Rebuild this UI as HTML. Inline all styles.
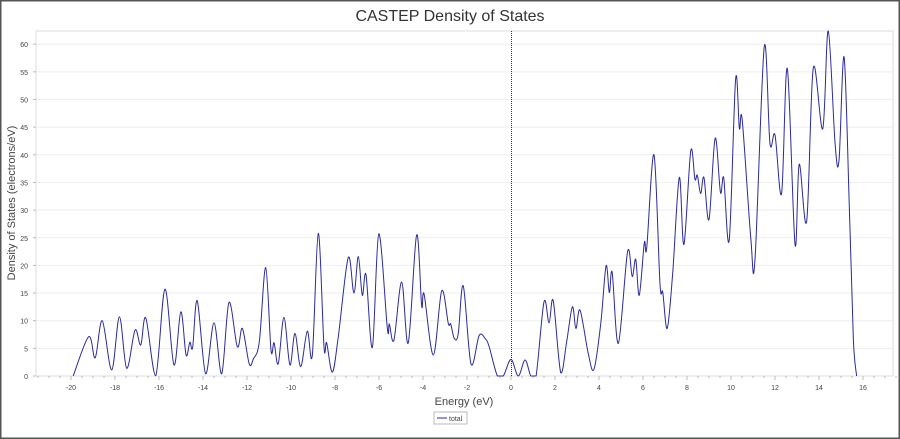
<!DOCTYPE html>
<html><head><meta charset="utf-8"><style>
html,body{margin:0;padding:0;background:#fff}
svg{display:block;font-family:"Liberation Sans",sans-serif}
</style></head><body>
<svg id="chart" width="900" height="439" viewBox="0 0 900 439">
<rect x="0.5" y="0.5" width="899" height="438" fill="#fff" stroke="#555" stroke-width="2"/>
<text x="450" y="21" text-anchor="middle" font-size="16" fill="#333">CASTEP Density of States</text>
<g id="grid"></g>
<rect x="36" y="31" width="857" height="345" fill="none" stroke="#ddd"/>
<g id="axes"></g>
<line id="fermi" stroke="#333" stroke-dasharray="1,1" stroke-width="1"/>
<path id="series" fill="none" stroke="#2a2a9e" stroke-width="1"/>
<text x="464" y="405" text-anchor="middle" font-size="11" fill="#444">Energy (eV)</text>
<text transform="translate(15,203) rotate(-90)" text-anchor="middle" font-size="11" fill="#444">Density of States (electrons/eV)</text>
<g>
<rect x="434" y="412" width="33" height="12" fill="#fff" stroke="#bbb"/>
<line x1="437" y1="418" x2="447" y2="418" stroke="#2a2a9e"/>
<text x="449" y="421" font-size="7" fill="#444">total</text>
</g>
</svg>
<script>
const energies=[-19.9,-19.2,-18.9,-18.58,-18.15,-17.8,-17.47,-17.09,-16.83,-16.6,-16.15,-15.73,-15.32,-15.01,-14.77,-14.6,-14.47,-14.26,-13.88,-13.5,-13.15,-12.82,-12.44,-12.21,-11.9,-11.71,-11.44,-11.15,-10.91,-10.77,-10.58,-10.32,-10.05,-9.82,-9.56,-9.26,-9.03,-8.76,-8.5,-8.38,-8.12,-7.85,-7.4,-7.14,-6.94,-6.76,-6.59,-6.3,-6.01,-5.62,-5.53,-5.32,-4.97,-4.67,-4.29,-4.06,-3.95,-3.53,-3.15,-2.85,-2.74,-2.58,-2.4,-2.17,-1.82,-1.45,-1.18,-1.0,-0.62,-0.35,0,0.33,0.64,0.9,1.14,1.5,1.73,1.92,2.26,2.53,2.79,2.95,3.14,3.51,3.77,4.08,4.32,4.47,4.6,4.88,5.3,5.51,5.67,5.83,6.06,6.17,6.5,6.77,6.9,7.1,7.35,7.65,7.86,8.17,8.36,8.47,8.62,8.77,9.0,9.28,9.52,9.67,9.92,10.21,10.38,10.51,10.9,11.09,11.51,11.77,12.0,12.3,12.56,12.91,13.1,13.44,13.74,14.17,14.42,14.73,14.91,15.14,15.38,15.56,15.71];
const dosValues=[0,7.1,3.3,10,1.1,10.7,1.4,8.3,5.6,10.5,0.05,15.7,2,11.6,3.8,6.1,5.2,13.6,0.4,9.6,0.4,13.3,5.3,8.6,2.2,3.1,6.2,19.6,4.7,6,2.2,10.6,2,7.7,1.7,8.1,3.8,25.8,5.3,6,0.7,7.1,21.4,15,21.6,14.6,18.3,5.2,25.7,8.6,9.4,6.5,17,6,25.5,12.7,14.8,3.8,15.4,9.5,9.4,6.8,7.6,16.3,2.2,7.3,6.8,5.4,0,0,3,0,2.9,0,0,13.4,9.6,13.6,0.6,6.2,12.5,8.6,11.9,4.1,1.2,9.5,19.9,15.1,18.7,5.9,22.5,18,21.1,14.6,24.1,23.2,40,16.8,15.1,8.6,18.6,35.9,23.8,40.7,35.6,36.3,33,35.9,28.3,43,33.2,35.8,24.6,53.7,44.8,46.3,24.9,21,59.5,42.1,43.6,33,55.6,23.8,38.3,28,55.7,44.7,62.4,42.1,39,57.7,30.3,6.8,0];
const xTicks=[-20,-18,-16,-14,-12,-10,-8,-6,-4,-2,0,2,4,6,8,10,12,14,16];
const yTicks=[0,5,10,15,20,25,30,35,40,45,50,55,60];
const NS='http://www.w3.org/2000/svg';
const X=e=>511+e*22;
const Y=d=>376-d*5.53;
const grid=document.getElementById('grid'),axes=document.getElementById('axes');
function mk(tag,attrs,parent){const el=document.createElementNS(NS,tag);for(const k in attrs)el.setAttribute(k,attrs[k]);parent.appendChild(el);return el;}
yTicks.forEach(v=>{
  const g=mk('line',{x1:36,x2:893,y1:Y(v),y2:Y(v),stroke:'#eee'},grid);
  
  
  const t=mk('text',{x:28,y:Y(v)+3,'text-anchor':'end','font-size':7,fill:'#444'},axes);
  t.textContent=v;
  
  
  const tk=mk('line',{x1:33,x2:36,y1:Y(v),y2:Y(v),stroke:'#bbb'},axes);
  
  
});
for(let e=-21.5;e<=17.5;e+=0.5){
  const major=Math.abs(e%2)<1e-9;
  const tk=mk('line',{x1:X(e),x2:X(e),y1:376,y2:major?380:378,stroke:'#bbb'},axes);
  
  
}
xTicks.forEach(v=>{
  const t=mk('text',{x:X(v),y:390,'text-anchor':'middle','font-size':7,fill:'#444'},axes);
  t.textContent=v;
  
  
});
const f=document.getElementById('fermi');
f.setAttribute('x1',X(0)+0.5);f.setAttribute('x2',X(0)+0.5);f.setAttribute('y1',31);f.setAttribute('y2',376);
const pts=energies.map((e,i)=>[X(e),Y(dosValues[i])]);
let d='M'+pts[0][0]+','+pts[0][1];
for(let i=0;i<pts.length-1;i++){
  const p0=pts[Math.max(0,i-1)],p1=pts[i],p2=pts[i+1],p3=pts[Math.min(pts.length-1,i+2)];
  const c1x=p1[0]+(p2[0]-p0[0])/6,c1y=p1[1]+(p2[1]-p0[1])/6;
  const c2x=p2[0]-(p3[0]-p1[0])/6,c2y=p2[1]-(p3[1]-p1[1])/6;
  d+=` C${c1x},${Math.min(376,c1y)} ${c2x},${Math.min(376,c2y)} ${p2[0]},${p2[1]}`;
}
document.getElementById('series').setAttribute('d',d);
</script>
</body></html>
